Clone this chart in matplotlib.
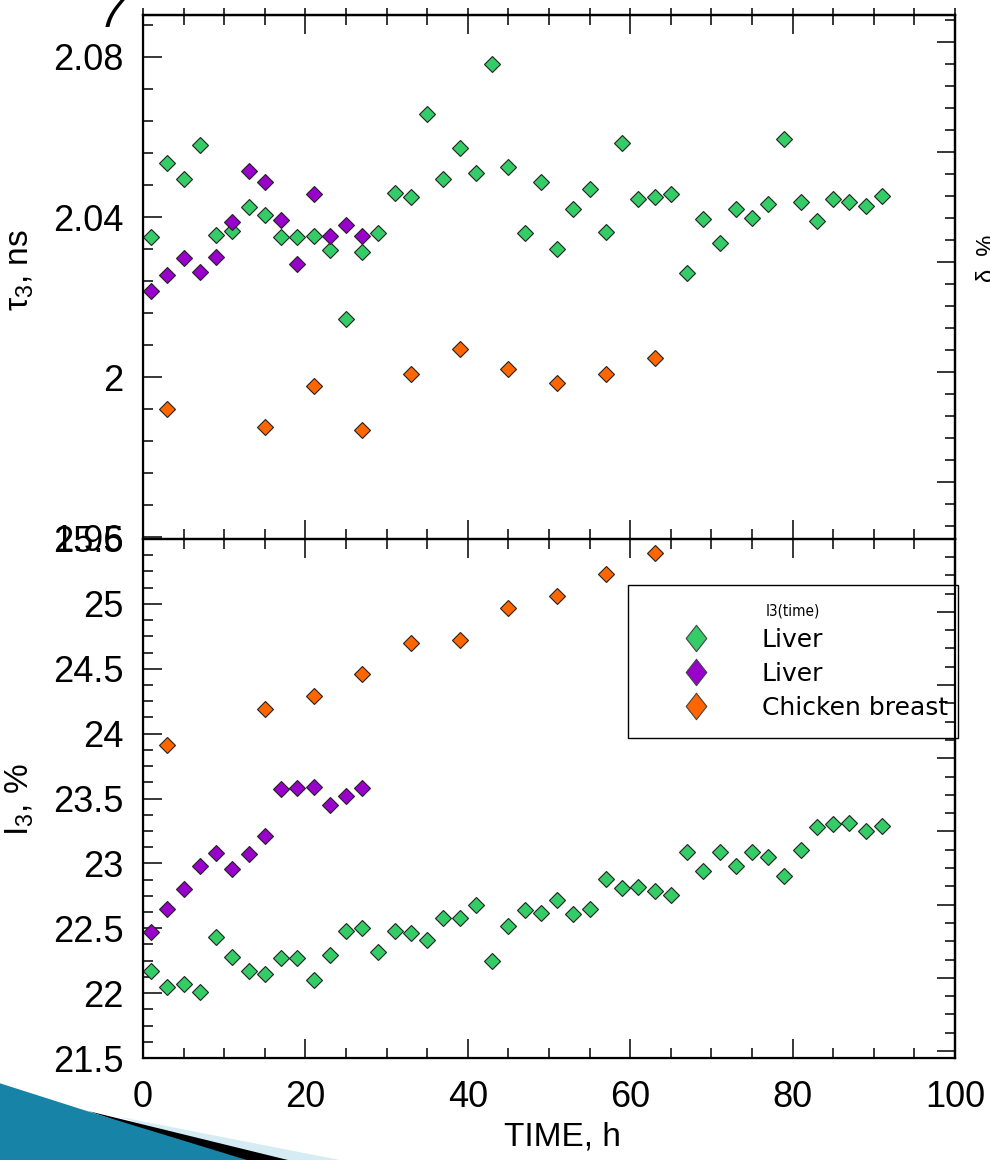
# -*- coding: utf-8 -*-
"""
Positron lifetime tau3 and intensity I3 versus storage time
"""

import matplotlib
matplotlib.use("Agg")
import matplotlib.pyplot as plt
from matplotlib.lines import Line2D
from matplotlib.patches import Polygon
from matplotlib.ticker import MultipleLocator
from matplotlib.path import Path

plt.rcParams['font.family'] = ['Liberation Sans', 'DejaVu Sans']
plt.rcParams['mathtext.fontset'] = 'custom'
plt.rcParams['mathtext.rm'] = 'Liberation Sans'
plt.rcParams['mathtext.it'] = 'Liberation Sans'

# storage time, h
time_liver1 = list(range(1, 92, 2))
time_liver2 = list(range(1, 28, 2))
time_chicken = [3, 15, 21, 27, 33, 39, 45, 51, 57, 63]

# tau3, ns
tau3_liver1 = [2.035, 2.0535, 2.0495, 2.058, 2.0355, 2.0365, 2.0425, 2.0405, 2.035, 2.035,
               2.03525, 2.03175, 2.0145, 2.03125, 2.036, 2.046, 2.045, 2.06575, 2.0495, 2.05725,
               2.051, 2.07825, 2.0525, 2.036, 2.04875, 2.032, 2.042, 2.047, 2.03625, 2.0585,
               2.0445, 2.045, 2.04575, 2.026, 2.0395, 2.0335, 2.042, 2.03975, 2.04325, 2.0595,
               2.04375, 2.039, 2.0445, 2.04375, 2.04275, 2.04525]
tau3_liver2 = [2.0215, 2.0255, 2.02975, 2.02625, 2.03, 2.03875, 2.0515, 2.04875, 2.03925,
               2.02825, 2.04575, 2.03525, 2.038, 2.03525]
tau3_chicken = [1.992, 1.9875, 1.99775, 1.98675, 2.00075, 2.007, 2.002, 1.9985, 2.00075, 2.00475]

# I3, %
i3_liver1 = [22.17, 22.05, 22.07, 22.01, 22.43, 22.28, 22.17, 22.15, 22.27, 22.27,
             22.10, 22.29, 22.48, 22.50, 22.32, 22.48, 22.46, 22.41, 22.58, 22.58,
             22.68, 22.25, 22.52, 22.64, 22.62, 22.72, 22.61, 22.65, 22.88, 22.81,
             22.82, 22.79, 22.76, 23.09, 22.94, 23.09, 22.98, 23.09, 23.05, 22.90,
             23.10, 23.28, 23.30, 23.31, 23.25, 23.29]
i3_liver2 = [22.47, 22.65, 22.80, 22.98, 23.08, 22.96, 23.07, 23.21, 23.57, 23.58,
             23.59, 23.45, 23.52, 23.58]
i3_chicken = [23.91, 24.19, 24.29, 24.46, 24.70, 24.72, 24.97, 25.06, 25.23, 25.39]

tau3_ticks = [1.96, 2.00, 2.04, 2.08]
tau3_ticklabels = ['1.96', '2', '2.04', '2.08']
i3_ticks = [21.5, 22, 22.5, 23, 23.5, 24, 24.5, 25, 25.5]
i3_ticklabels = ['21.5', '22', '22.5', '23', '23.5', '24', '24.5', '25', '25.5']
time_ticks = [0, 20, 40, 60, 80, 100]

labels = ['Liver', 'Liver', 'Chicken breast']
colors = ['#33CC66', '#9900CC', '#FF6600']

W_PX, H_PX = 990, 1160


def fx(px):
    return px / W_PX


def fy(py):
    return 1 - py / H_PX


fig = plt.figure(figsize=(9.9, 11.6), dpi=100)
left, right = 143, 955
ax1 = fig.add_axes([fx(left), fy(539), fx(right - left), (539 - 15) / H_PX])
ax2 = fig.add_axes([fx(left), fy(1058), fx(right - left), (1058 - 539) / H_PX])

series = [(time_liver1, tau3_liver1, i3_liver1),
          (time_liver2, tau3_liver2, i3_liver2),
          (time_chicken, tau3_chicken, i3_chicken)]
for (t, tau, i3), c in zip(series, colors):
    ax1.plot(t, tau, ls='none', marker='D', ms=7.8, mfc=c, mec='#222222', mew=0.8, zorder=3)
    ax2.plot(t, i3, ls='none', marker='D', ms=7.8, mfc=c, mec='#222222', mew=0.8, zorder=3)

for ax in (ax1, ax2):
    ax.set_xlim(0, 100)
    ax.xaxis.set_minor_locator(MultipleLocator(5))
    for sp in ax.spines.values():
        sp.set_linewidth(1.6)
    ax.tick_params(which='both', direction='in', top=True, bottom=True, left=True, right=False,
                   width=1.1, labelsize=26, colors='black')
    ax.tick_params(which='major', length=14)
    ax.tick_params(which='minor', length=7)
    ax.tick_params(axis='y', pad=14)
    ax.tick_params(axis='x', pad=16)

ax1.set_ylim(1.9595, 2.0905)
ax1.set_yticks(tau3_ticks, tau3_ticklabels)
ax1.yaxis.set_minor_locator(MultipleLocator(0.008))
ax1.set_xticks(time_ticks)
ax1.tick_params(labelbottom=False)

ax2.set_ylim(21.5, 25.5)
ax2.set_yticks(i3_ticks, i3_ticklabels)
ax2.yaxis.set_minor_locator(MultipleLocator(0.125))
ax2.set_xticks(time_ticks, [str(v) for v in time_ticks])

# short outward ticks above the top frame
sec = ax1.secondary_xaxis('top')
sec.xaxis.set_major_locator(MultipleLocator(20))
sec.xaxis.set_minor_locator(MultipleLocator(5))
sec.tick_params(which='both', direction='out', length=5, width=1.1, labeltop=False)
sec.spines['top'].set_linewidth(1.6)

# right-hand scales of the hidden second plot
r1 = ax1.twinx()
r1.set_ylim(-2.59, 21.23)
r1.yaxis.set_major_locator(MultipleLocator(5))
r1.yaxis.set_minor_locator(MultipleLocator(1))
r2 = ax2.twinx()
r2.set_ylim(-0.38, 27.98)
r2.yaxis.set_major_locator(MultipleLocator(4))
r2.yaxis.set_minor_locator(MultipleLocator(1))
for r in (r1, r2):
    r.tick_params(which='both', direction='in', width=1.1, labelright=False)
    r.tick_params(which='major', length=13)
    r.tick_params(which='minor', length=7)
    r.spines['right'].set_linewidth(1.6)

fig.text(fx(20), fy(270), r'$\mathrm{\tau_3}$, ns', rotation=90, ha='center', va='center', fontsize=24)
fig.text(fx(20), fy(800), r'$\mathrm{I_3}$, %', rotation=90, ha='center', va='center', fontsize=24)
fig.text(fx(562), fy(1137), 'TIME, h', ha='center', va='center', fontsize=24)
fig.text(fx(112), fy(27), '7', ha='center', va='baseline', fontsize=32, style='italic')
fig.text(fx(988), fy(258), 'δ, %', rotation=90, ha='center', va='center', fontsize=17)

# legend
diamond = Path([(0, 1), (0.78, 0), (0, -1), (-0.78, 0), (0, 1)],
               [Path.MOVETO, Path.LINETO, Path.LINETO, Path.LINETO, Path.CLOSEPOLY])
handles = [Line2D([], [], ls='none', marker=diamond, ms=19, mfc=c, mec='#444444', mew=0.8)
           for c in colors]
leg = ax2.legend(handles, labels, title='I3(time)', loc='upper left', mode='expand',
                 bbox_to_anchor=(fx(628), fy(740), fx(958) - fx(628), (740 - 585) / H_PX),
                 bbox_transform=fig.transFigure, borderaxespad=0, borderpad=0.72,
                 handlelength=4.0, handletextpad=0.62, labelspacing=0.4,
                 fancybox=False, framealpha=1, edgecolor='black',
                 prop={'family': 'DejaVu Sans', 'size': 18},
                 title_fontproperties={'family': 'DejaVu Sans', 'size': 11, 'stretch': 'condensed'})
leg.get_frame().set_linewidth(1.0)
leg.set_zorder(5)

# slide corner ornament
fig.patches.append(Polygon([(fx(120), fy(1117)), (fx(345), fy(1161)), (fx(250), fy(1161))],
                           closed=True, transform=fig.transFigure, facecolor='#d6ecf5',
                           edgecolor='none'))
fig.patches.append(Polygon([(fx(88), fy(1111)), (fx(292), fy(1161)), (fx(235), fy(1161))],
                           closed=True, transform=fig.transFigure, facecolor='black',
                           edgecolor='none'))
fig.patches.append(Polygon([(fx(-1), fy(1083)), (fx(90), fy(1112)), (fx(250), fy(1161)),
                            (fx(-1), fy(1161))],
                           closed=True, transform=fig.transFigure, facecolor='#1783a6',
                           edgecolor='none'))

plt.savefig('out.png', dpi=100)
